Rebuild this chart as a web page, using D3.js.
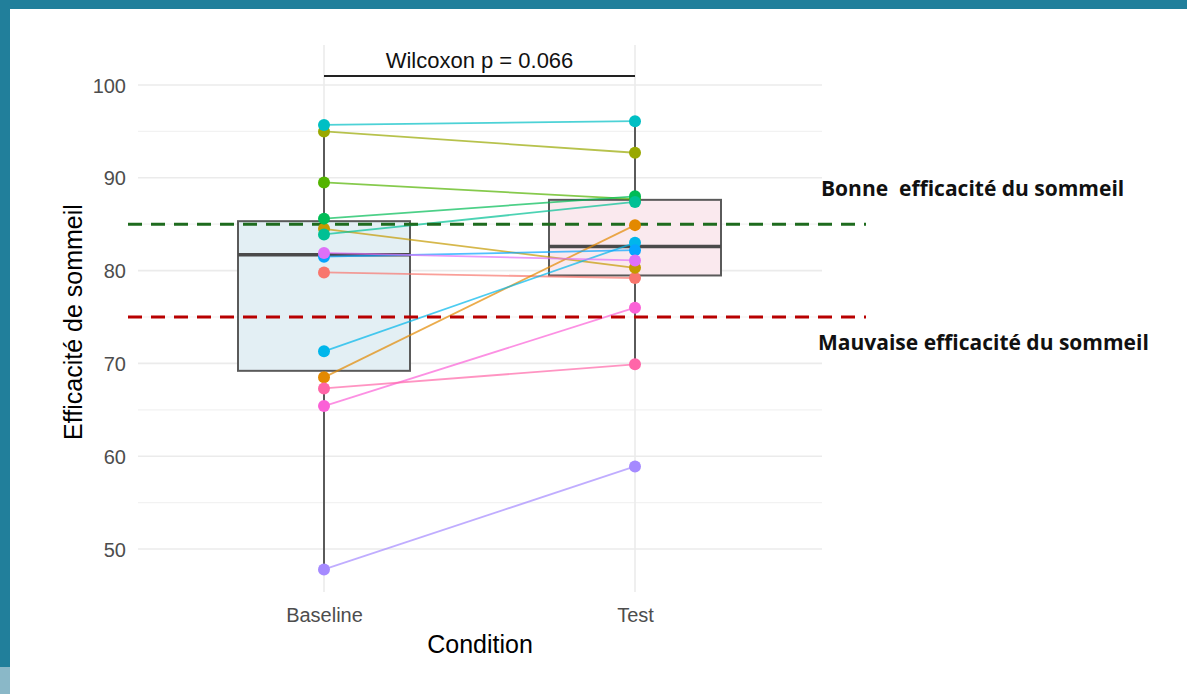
<!DOCTYPE html>
<html><head><meta charset="utf-8">
<script src="https://cdn.jsdelivr.net/npm/d3@7"></script>
<style>
html,body{margin:0;padding:0;background:#fff;}
svg{display:block;}
</style></head>
<body>
<svg id="chart" width="1187" height="694"></svg>
<script>
// ---- data ----
const conditions = ["Baseline", "Test"];
const subjects = ["S1","S2","S3","S4","S5","S6","S7","S8","S9","S10","S11","S12","S13","S14"];
const subjectColors = ["#F8766D","#E38900","#C49A00","#99A800","#53B400","#00BC56","#00C094","#00BFC4","#00B6EB","#06A4FF","#A58AFF","#DF70F8","#FB61D7","#FF66A8"];
const baselineValues = [79.8, 68.5, 84.5, 95.0, 89.5, 85.6, 83.9, 95.7, 71.3, 81.5, 47.8, 81.9, 65.4, 67.3];
const testValues     = [79.2, 84.9, 80.3, 92.7, 87.7, 88.0, 87.4, 96.1, 83.0, 82.2, 58.9, 81.1, 76.0, 69.9];
const yTicks = [50, 60, 70, 80, 90, 100];
const yMinorTicks = [55, 65, 75, 85, 95];
const thresholds = [
  {value: 85, label: "Bonne  efficacité du sommeil", color: "#1E6B1E"},
  {value: 75, label: "Mauvaise efficacité du sommeil", color: "#B80000"}
];
const pLabel = "Wilcoxon p = 0.066";
const boxFills = ["#E3EFF4", "#FAE9EE"];

// ---- layout ----
const svg = d3.select("#chart");
const W = 1187, H = 694;
const panel = {left: 128, right: 822, top: 45, bottom: 592};
const FONT = "'Liberation Sans', Arial, sans-serif";

// frame bands
svg.append("rect").attr("x",0).attr("y",0).attr("width",W).attr("height",9).attr("fill","#217F9B");
svg.append("rect").attr("x",0).attr("y",0).attr("width",10).attr("height",667).attr("fill","#217F9B");
svg.append("rect").attr("x",0).attr("y",667).attr("width",10).attr("height",H-667).attr("fill","#8AB8C8");

const x = d3.scalePoint().domain(conditions).range([324, 635]);
const y = d3.scaleLinear().domain([50, 100]).range([549, 85]);

// gridlines
const grid = svg.append("g");
grid.selectAll(".minor").data(yMinorTicks).join("line")
  .attr("x1", 138).attr("x2", panel.right)
  .attr("y1", d => y(d)).attr("y2", d => y(d))
  .attr("stroke", "#F2F2F2").attr("stroke-width", 1.2);
grid.selectAll(".major").data(yTicks).join("line")
  .attr("x1", 138).attr("x2", panel.right)
  .attr("y1", d => y(d)).attr("y2", d => y(d))
  .attr("stroke", "#EBEBEB").attr("stroke-width", 1.6);
grid.selectAll(".vmajor").data(conditions).join("line")
  .attr("x1", d => x(d)).attr("x2", d => x(d))
  .attr("y1", panel.top).attr("y2", panel.bottom)
  .attr("stroke", "#EBEBEB").attr("stroke-width", 1.6);

// y axis labels
const yAxis = d3.axisLeft(y).tickValues(yTicks).tickSize(0).tickPadding(0);
const yg = svg.append("g").attr("transform", "translate(126,0)").call(yAxis);
yg.select(".domain").remove();
yg.selectAll("text").attr("font-family", FONT).attr("font-size", 20).attr("fill", "#4D4D4D").attr("dy","0.35em");

// x axis labels
const xAxis = d3.axisBottom(x).tickSize(0).tickPadding(0);
const xg = svg.append("g").attr("transform", "translate(0,622)").call(xAxis);
xg.select(".domain").remove();
xg.selectAll("text").attr("font-family", FONT).attr("font-size", 20).attr("fill", "#4D4D4D").attr("y", 0).attr("dy","0");

// titles
svg.append("text").attr("x", 480).attr("y", 653).attr("text-anchor","middle")
  .attr("font-family", FONT).attr("font-size", 25).attr("fill","#000")
  .text("Condition");
svg.append("text").attr("transform","translate(82,322) rotate(-90)").attr("text-anchor","middle")
  .attr("font-family", FONT).attr("font-size", 25).attr("fill","#000")
  .text("Efficacité de sommeil");

// boxplots
const series = [baselineValues, testValues];
const boxW = 172;
const bg = svg.append("g");
series.forEach((vals, i) => {
  const s = vals.slice().sort(d3.ascending);
  const q1 = d3.quantile(s, 0.25), med = d3.quantile(s, 0.5), q3 = d3.quantile(s, 0.75);
  const iqr = q3 - q1;
  const lo = d3.min(s.filter(v => v >= q1 - 1.5*iqr));
  const hi = d3.max(s.filter(v => v <= q3 + 1.5*iqr));
  const cx = x(conditions[i]);
  bg.append("line").attr("x1",cx).attr("x2",cx).attr("y1",y(hi)).attr("y2",y(q3)).attr("stroke","#5A5A5A").attr("stroke-width",2);
  bg.append("line").attr("x1",cx).attr("x2",cx).attr("y1",y(q1)).attr("y2",y(lo)).attr("stroke","#5A5A5A").attr("stroke-width",2);
  bg.append("rect").attr("x",cx-boxW/2).attr("width",boxW).attr("y",y(q3)).attr("height",y(q1)-y(q3))
    .attr("fill",boxFills[i]).attr("stroke","#5A5A5A").attr("stroke-width",2);
  bg.append("line").attr("x1",cx-boxW/2).attr("x2",cx+boxW/2).attr("y1",y(med)).attr("y2",y(med)).attr("stroke","#4A4A4A").attr("stroke-width",3.5);
});

// paired lines
const lg = svg.append("g");
subjects.forEach((s, i) => {
  lg.append("line")
    .attr("x1", x("Baseline")).attr("y1", y(baselineValues[i]))
    .attr("x2", x("Test")).attr("y2", y(testValues[i]))
    .attr("stroke", subjectColors[i]).attr("stroke-width", 1.8).attr("stroke-opacity", 0.7);
});

// threshold lines
thresholds.forEach(t => {
  svg.append("line").attr("x1", panel.left).attr("x2", 866)
    .attr("y1", y(t.value)).attr("y2", y(t.value))
    .attr("stroke", t.color).attr("stroke-width", 3).attr("stroke-dasharray", "14,9");
});

// points
const pg = svg.append("g");
subjects.forEach((s, i) => {
  pg.append("circle").attr("cx", x("Baseline")).attr("cy", y(baselineValues[i])).attr("r", 6).attr("fill", subjectColors[i]);
  pg.append("circle").attr("cx", x("Test")).attr("cy", y(testValues[i])).attr("r", 6).attr("fill", subjectColors[i]);
});

// wilcoxon bracket
svg.append("line").attr("x1", x("Baseline")).attr("x2", x("Test")).attr("y1", 76).attr("y2", 76)
  .attr("stroke", "#222").attr("stroke-width", 1.8);
svg.append("text").attr("x", (x("Baseline")+x("Test"))/2).attr("y", 68).attr("text-anchor","middle")
  .attr("font-family", FONT).attr("font-size", 22).attr("fill","#111")
  .text(pLabel);

// threshold annotations
svg.append("text").attr("x", 821).attr("y", 196)
  .attr("font-family","'Open Sans', sans-serif").attr("font-weight", 700).attr("font-size", 21).attr("fill","#111")
  .attr("xml:space","preserve").style("white-space","pre")
  .text(thresholds[0].label);
svg.append("text").attr("x", 818).attr("y", 350)
  .attr("font-family","'Open Sans', sans-serif").attr("font-weight", 700).attr("font-size", 21).attr("fill","#111")
  .text(thresholds[1].label);
</script>
</body></html>
